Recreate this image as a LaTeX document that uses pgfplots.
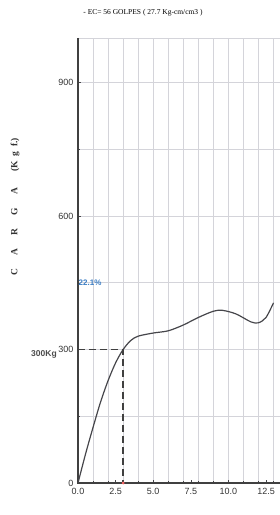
\documentclass[border=0pt]{standalone}
\usepackage{pgfplots}
\pgfplotsset{compat=1.18}
\usepackage{fontspec}
\setmainfont{Liberation Serif}
\setsansfont{Liberation Sans}
\definecolor{gridc}{RGB}{212,212,218}
\definecolor{curvec}{RGB}{70,70,75}
\definecolor{bluelab}{RGB}{60,125,195}
\begin{document}
\begin{tikzpicture}[x=1pt,y=1pt]
\path[use as bounding box] (0,0) rectangle (280,515);
\begin{axis}[
  at={(78pt,32pt)}, anchor=south west,
  scale only axis, width=202pt, height=445pt,
  xmin=0, xmax=13.43, ymin=0, ymax=1000,
  xtick={0,2.5,5,7.5,10,12.5},
  xticklabels={0.0,2.5,5.0,7.5,10.0,12.5},
  minor xtick={1,2,3,4,5,6,7,8,9,10,11,12,13},
  ytick={0,300,600,900},
  minor ytick={150,450,750},
  xtick pos=bottom, ytick pos=left,
  xminorgrids, yminorgrids, ymajorgrids,
  minor grid style={gridc, line width=0.5pt},
  major grid style={gridc, line width=0.5pt},
  axis line style={draw=none},
  tick style={draw=curvec, line width=0.4pt},
  major tick length=2.5pt, minor tick length=2pt,
  tick align=inside,
  ticklabel style={font=\sffamily\fontsize{9}{10}\selectfont, text=black!80},
  /pgf/number format/assume math mode=true,
  xticklabel style={yshift=-2pt},
  yticklabel style={xshift=-1pt},
  clip=false,
]
% frame
\draw[gridc, line width=0.6pt] (axis cs:0,1000) -- (axis cs:13.43,1000) -- (axis cs:13.43,0);
\draw[black!75, line width=1.2pt] (axis cs:0,1000) -- (axis cs:0,0) -- (axis cs:13.43,0);
\addplot[curvec, line width=1.2pt, smooth, tension=0.5] coordinates {
(0,0)(0.5,65)(1,125)(1.5,182)(2,230)(2.5,270)(3,300)(3.5,320)(4,330)(5,337)(6,342)(7,355)(8,372)(9,386)(9.6,388)(10.5,380)(11.5,362)(12,360)(12.5,372)(13,405)};
\addplot[black!75, line width=1.4pt, dash pattern=on 7pt off 4pt] coordinates {(0,300)(3,300)(3,0)};
\addplot[only marks, mark=*, mark size=1.3pt, color=red!60] coordinates {(3,0)};
\node[font=\sffamily\bfseries\fontsize{8.5}{9}\selectfont, text=black!70, anchor=east, inner sep=0pt] at (axis cs:-1.4,290) {300Kg};
\node[font=\sffamily\bfseries\fontsize{8}{9}\selectfont, text=bluelab] at (axis cs:0.8,450) {22.1\%};
\end{axis}
\node[font=\fontsize{7.5}{8}\selectfont] at (143,502) {- EC= 56 GOLPES ( 27.7 Kg-cm/cm3 )};
\node[rotate=90, font=\bfseries\fontsize{9.5}{10}\selectfont, text=black!80] at (15,308) {C\hspace{1.4em}A\hspace{1.4em}R\hspace{1.4em}G\hspace{1.4em}A\hspace{1.7em}(K\hspace{0.5em}g\hspace{0.5em}f.)};
\end{tikzpicture}
\end{document}
